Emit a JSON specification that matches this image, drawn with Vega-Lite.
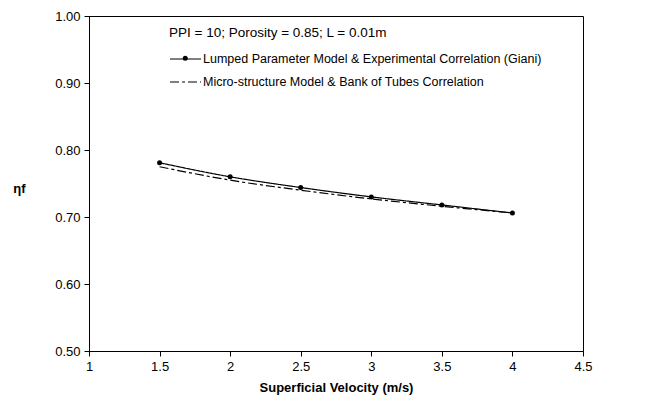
{
  "$schema": "https://vega.github.io/schema/vega-lite/v6.json",
  "width": 494,
  "height": 335,
  "autosize": "none",
  "padding": {"left": 89, "top": 16, "right": 75, "bottom": 54},
  "background": "white",
  "config": {
    "font": "Liberation Sans",
    "view": {"stroke": "black", "strokeWidth": 1},
    "axis": {
      "grid": false,
      "domainColor": "black",
      "tickColor": "black",
      "tickSize": 5,
      "labelColor": "black",
      "labelFont": "Liberation Sans",
      "labelFontSize": 13,
      "titleFont": "Liberation Sans",
      "titleColor": "black",
      "titleFontWeight": "bold",
      "titleFontSize": 13
    }
  },
  "data": {
    "values": [
      {"v": 1.5, "eta": 0.781, "series": "Lumped Parameter Model & Experimental Correlation (Giani)"},
      {"v": 2.0, "eta": 0.760, "series": "Lumped Parameter Model & Experimental Correlation (Giani)"},
      {"v": 2.5, "eta": 0.744, "series": "Lumped Parameter Model & Experimental Correlation (Giani)"},
      {"v": 3.0, "eta": 0.730, "series": "Lumped Parameter Model & Experimental Correlation (Giani)"},
      {"v": 3.5, "eta": 0.718, "series": "Lumped Parameter Model & Experimental Correlation (Giani)"},
      {"v": 4.0, "eta": 0.706, "series": "Lumped Parameter Model & Experimental Correlation (Giani)"},
      {"v": 1.5, "eta": 0.775, "series": "Micro-structure Model & Bank of Tubes Correlation"},
      {"v": 2.0, "eta": 0.755, "series": "Micro-structure Model & Bank of Tubes Correlation"},
      {"v": 2.5, "eta": 0.740, "series": "Micro-structure Model & Bank of Tubes Correlation"},
      {"v": 3.0, "eta": 0.727, "series": "Micro-structure Model & Bank of Tubes Correlation"},
      {"v": 3.5, "eta": 0.716, "series": "Micro-structure Model & Bank of Tubes Correlation"},
      {"v": 4.0, "eta": 0.706, "series": "Micro-structure Model & Bank of Tubes Correlation"}
    ]
  },
  "encoding": {
    "x": {
      "field": "v", "type": "quantitative",
      "scale": {"domain": [1, 4.5], "nice": false, "zero": false},
      "axis": {"values": [1, 1.5, 2, 2.5, 3, 3.5, 4, 4.5], "format": "~g", "title": "Superficial Velocity (m/s)", "labelPadding": 4, "titlePadding": 8, "labelFlush": false}
    },
    "y": {
      "field": "eta", "type": "quantitative",
      "scale": {"domain": [0.5, 1.0], "nice": false, "zero": false},
      "axis": {"values": [0.5, 0.6, 0.7, 0.8, 0.9, 1.0], "format": ".2f", "title": "ηf", "titleAngle": 0, "titleX": -70, "titleY": 172, "titleAlign": "center", "titleBaseline": "middle", "labelPadding": 4, "labelFlush": false}
    }
  },
  "layer": [
    {
      "mark": {"type": "line", "color": "black", "strokeWidth": 1.2, "interpolate": "monotone"},
      "encoding": {
        "strokeDash": {
          "field": "series", "type": "nominal",
          "scale": {
            "domain": ["Lumped Parameter Model & Experimental Correlation (Giani)", "Micro-structure Model & Bank of Tubes Correlation"],
            "range": [[1, 0], [9, 3, 3, 3]]
          },
          "legend": {
            "orient": "none", "legendX": 80, "legendY": 10,
            "title": "PPI = 10; Porosity = 0.85; L = 0.01m", "titleLimit": 600,
            "titleFontWeight": "normal", "titleFontSize": 13.5, "titleColor": "black",
            "titleFont": "Liberation Sans", "titlePadding": 3,
            "labelFontSize": 12.5, "labelColor": "black", "labelFont": "Liberation Sans",
            "labelLimit": 500, "labelOffset": 1,
            "symbolType": "stroke", "symbolSize": 961, "symbolStrokeWidth": 1.2,
            "symbolStrokeColor": "black", "rowPadding": -2
          }
        }
      }
    },
    {
      "transform": [{"filter": "datum.series === 'Lumped Parameter Model & Experimental Correlation (Giani)'"}],
      "mark": {"type": "point", "filled": true, "color": "black", "size": 25, "opacity": 1},
      "encoding": {
        "shape": {
          "field": "series", "type": "nominal",
          "scale": {"domain": ["Lumped Parameter Model & Experimental Correlation (Giani)"], "range": ["circle"]},
          "legend": {
            "orient": "none", "legendX": 90, "legendY": 36, "title": null,
            "labelExpr": "''", "labelColor": "transparent", "symbolFillColor": "black", "symbolStrokeColor": "black",
            "symbolSize": 25, "symbolOpacity": 1, "labelFontSize": 12.5
          }
        }
      }
    }
  ]
}
